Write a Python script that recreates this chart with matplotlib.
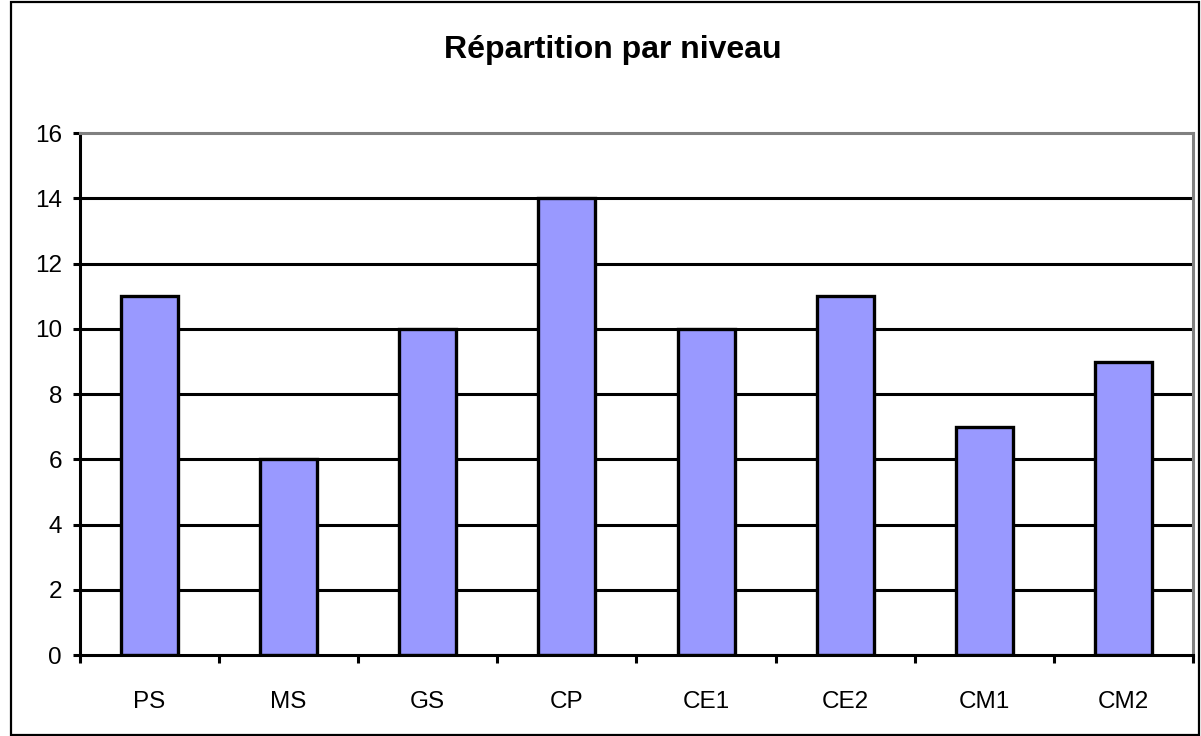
import matplotlib
matplotlib.use("Agg")
import matplotlib.pyplot as plt
from matplotlib.patches import Rectangle
import numpy as np

levels = ['PS', 'MS', 'GS', 'CP', 'CE1', 'CE2', 'CM1', 'CM2']
counts = [11, 6, 10, 14, 10, 11, 7, 9]
yticks = [0, 2, 4, 6, 8, 10, 12, 14, 16]

plt.rcParams['font.family'] = ['Liberation Sans', 'DejaVu Sans']

fig = plt.figure(figsize=(12.01, 7.36), dpi=100)
ax = fig.add_axes([0.0666, 0.110, 0.9267, 0.709])

x = np.arange(len(levels))
ax.bar(x, counts, width=0.41, color='#9999FF', edgecolor='black', linewidth=2.4, zorder=3)

ax.set_xlim(-0.5, len(levels) - 0.5)
ax.set_ylim(0, 16)
ax.set_yticks(yticks)
ax.set_yticklabels([str(v) for v in yticks], fontsize=17.5)
ax.set_xticks(x)
ax.set_xticklabels(levels, fontsize=17.5)
ax.tick_params(axis='x', length=0, pad=26)
ax.tick_params(axis='y', length=5, width=2.2, pad=8)

# category boundary ticks on x axis
ax.set_xticks(np.arange(len(levels) + 1) - 0.5, minor=True)
ax.tick_params(axis='x', which='minor', length=6, width=2.2, direction='out')

for v in yticks[1:-1]:
    ax.axhline(v, color='black', linewidth=2.2, zorder=1)

ax.spines['left'].set_linewidth(2.2)
ax.spines['bottom'].set_linewidth(2.2)
ax.spines['bottom'].set_zorder(4)
ax.spines['top'].set_color('#808080')
ax.spines['right'].set_color('#808080')
ax.spines['top'].set_linewidth(2.2)
ax.spines['right'].set_linewidth(2.2)

fig.text(0.51, 0.932, 'Répartition par niveau', ha='center', va='center',
         fontsize=23, fontweight='bold')

fig.patches.append(Rectangle((0.009, 0.002), 0.989, 0.995, transform=fig.transFigure,
                             fill=False, edgecolor='black', linewidth=1.6))

fig.savefig('out.png', dpi=100)
